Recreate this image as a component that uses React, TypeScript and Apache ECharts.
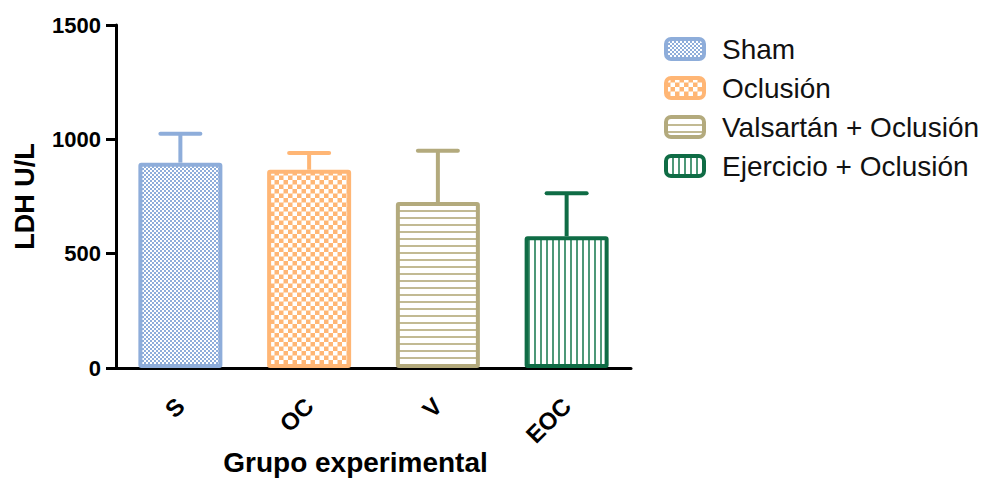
import React, { useEffect, useRef } from "react";
import * as echarts from "echarts";

const categories = ["S", "OC", "V", "EOC"];
const seriesNames = ["Sham", "Oclusión", "Valsartán + Oclusión", "Ejercicio + Oclusión"];
const means = [898, 867, 726, 576];
const upperErr = [1024, 940, 950, 764];
const yTicks = [0, 500, 1000, 1500];

const colors = ["#8EADDA", "#FFB675", "#B3AA7D", "#0F6C45"];
const FONT = 'Arial, "Liberation Sans", sans-serif';

function makePattern(w: number, h: number, draw: (ctx: CanvasRenderingContext2D) => void) {
  const c = document.createElement("canvas");
  c.width = w;
  c.height = h;
  const ctx = c.getContext("2d") as CanvasRenderingContext2D;
  draw(ctx);
  return { image: c.toDataURL(), repeat: "repeat", imageWidth: w, imageHeight: h };
}

export default function App() {
  const ref = useRef<HTMLDivElement>(null);
  useEffect(() => {
    document.body.style.margin = "0";
    const chart = echarts.init(ref.current as HTMLDivElement, null, {
      renderer: "svg",
      width: 984,
      height: 478,
    });

    const patterns = [
      makePattern(4, 4, (ctx) => {
        ctx.fillStyle = colors[0];
        ctx.fillRect(0, 0, 4, 4);
        ctx.fillStyle = "#ffffff";
        ctx.fillRect(0, 0, 2, 2);
        ctx.fillRect(2, 2, 2, 2);
      }),
      makePattern(9, 9, (ctx) => {
        ctx.fillStyle = colors[1];
        ctx.fillRect(0, 0, 9, 9);
        ctx.fillStyle = "#ffffff";
        ctx.fillRect(0, 0, 4.5, 4.5);
        ctx.fillRect(4.5, 4.5, 4.5, 4.5);
      }),
      makePattern(4, 7, (ctx) => {
        ctx.fillStyle = "#ffffff";
        ctx.fillRect(0, 0, 4, 7);
        ctx.fillStyle = "#C2BA93";
        ctx.fillRect(0, 0, 4, 2);
      }),
      makePattern(6, 4, (ctx) => {
        ctx.fillStyle = "#ffffff";
        ctx.fillRect(0, 0, 6, 4);
        ctx.fillStyle = "#4E9878";
        ctx.fillRect(0, 0, 2, 4);
      }),
    ];

    const barSeries = seriesNames.map((name, i) => ({
      name,
      type: "bar",
      barWidth: 84,
      barGap: "-100%",
      data: categories.map((_, j) => (j === i ? means[i] : "-")),
      itemStyle: {
        color: patterns[i],
        borderColor: colors[i],
        borderWidth: 4,
        borderRadius: 1,
      },
      z: 3,
    }));

    const errData = categories.map((_, i) => [i, means[i], upperErr[i]]);

    chart.setOption({
      animation: false,
      backgroundColor: "#ffffff",
      grid: {
        left: 116,
        right: 353,
        top: 25,
        bottom: 110,
        containLabel: false,
        outerBoundsMode: "none",
      },
      legend: {
        data: seriesNames,
        orient: "vertical",
        left: 664,
        top: 35,
        padding: 0,
        itemWidth: 38,
        itemHeight: 20,
        itemGap: 11,
        icon: "roundRect",
        itemStyle: { borderWidth: 4 },
        textStyle: {
          fontFamily: FONT,
          fontSize: 28,
          color: "#111111",
          padding: [0, 0, 0, 13],
          lineHeight: 28,
        },
      },
      xAxis: {
        type: "category",
        data: categories,
        name: "Grupo experimental",
        nameLocation: "middle",
        nameGap: 80,
        nameMoveOverlap: false,
        nameTextStyle: {
          fontFamily: FONT,
          fontSize: 28,
          fontWeight: "bold",
          color: "#000000",
          padding: [0, 36, 0, 0],
        },
        axisLine: { lineStyle: { color: "#000000", width: 3 } },
        axisTick: { length: 10, lineStyle: { color: "#000000", width: 3 }, alignWithLabel: true },
        axisLabel: {
          rotate: 45,
          margin: 34,
          fontFamily: FONT,
          fontSize: 24,
          fontWeight: "bold",
          color: "#000000",
        },
      },
      yAxis: {
        type: "value",
        min: yTicks[0],
        max: yTicks[yTicks.length - 1],
        interval: 500,
        name: "LDH U/L",
        nameLocation: "middle",
        nameGap: 78,
        nameMoveOverlap: false,
        nameTextStyle: {
          fontFamily: FONT,
          fontSize: 27,
          fontWeight: "bold",
          color: "#000000",
        },
        axisLine: { show: true, lineStyle: { color: "#000000", width: 3 } },
        axisTick: { show: true, length: 10, lineStyle: { color: "#000000", width: 3 } },
        splitLine: { show: false },
        axisLabel: {
          margin: 15,
          fontFamily: FONT,
          fontSize: 22,
          fontWeight: "bold",
          color: "#000000",
          formatter: (v: number) => String(v),
        },
      },
      series: [
        ...barSeries,
        {
          type: "custom",
          name: "err",
          data: errData,
          encode: { x: 0, y: [1, 2] },
          z: 2,
          renderItem: (params: any, api: any) => {
            const x = api.value(0);
            const p0 = api.coord([x, api.value(1)]);
            const p1 = api.coord([x, api.value(2)]);
            const color = colors[params.dataIndex];
            return {
              type: "group",
              children: [
                {
                  type: "line",
                  shape: { x1: p0[0], y1: p0[1], x2: p1[0], y2: p1[1] },
                  style: { stroke: color, lineWidth: 4 },
                },
                {
                  type: "line",
                  shape: { x1: p1[0] - 20, y1: p1[1], x2: p1[0] + 20, y2: p1[1] },
                  style: { stroke: color, lineWidth: 4, lineCap: "round" },
                },
              ],
            };
          },
        },
      ],
    });
    return () => chart.dispose();
  }, []);
  return <div ref={ref} style={{ width: 984, height: 478 }} />;
}
